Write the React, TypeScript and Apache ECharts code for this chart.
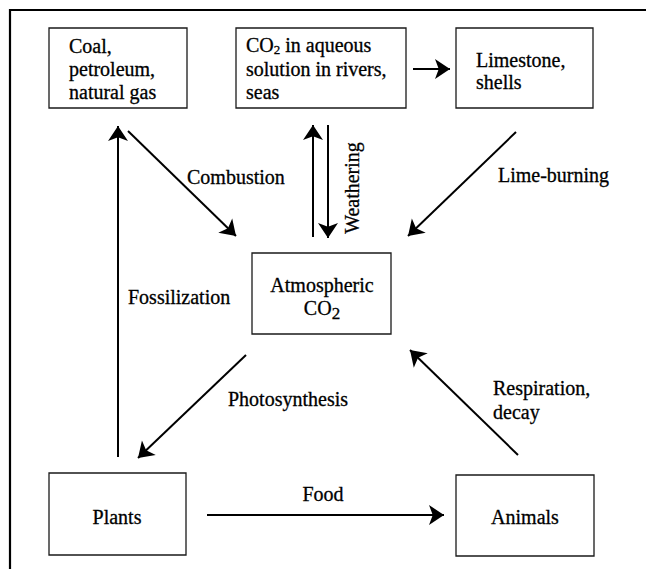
import React, { useEffect, useRef } from "react";
import * as echarts from "echarts";

// Diagram content
const boxNames = ["coal", "aqueous", "limestone", "atmos", "plants", "animals"];
const boxRects = [
  [49, 28, 187, 108],
  [236, 28, 406, 108],
  [456, 28, 593, 108],
  [252, 253, 391, 334],
  [49, 473, 186, 555],
  [456, 475, 594, 556],
];

const labelTexts = [
  "Coal,",
  "petroleum,",
  "natural gas",
  "CO{sub|2} in aqueous",
  "solution in rivers,",
  "seas",
  "Limestone,",
  "shells",
  "Atmospheric",
  "CO{big|2}",
  "Plants",
  "Animals",
  "Combustion",
  "Weathering",
  "Lime-burning",
  "Fossilization",
  "Photosynthesis",
  "Respiration,",
  "decay",
  "Food",
];
const labelAnchors = [
  [69, 46], [69, 69], [69, 92],
  [246, 45], [246, 69], [246, 92],
  [476, 60], [476, 82],
  [322, 285], [322, 308],
  [117, 517], [525, 517],
  [187, 177], [352, 188], [498, 175],
  [128, 297], [228, 399], [493, 388], [493, 412],
  [323, 494],
];
const labelAligns = [
  "left", "left", "left", "left", "left", "left", "left", "left",
  "center", "center", "center", "center",
  "left", "center", "left", "left", "left", "left", "left", "center",
];
const labelRotations = [0, 0, 0, 0, 0, 0, 0, 0, 0, 0, 0, 0, 0, 90, 0, 0, 0, 0, 0, 0];

const flowNames = [
  "Fossilization", "Combustion", "Weathering up", "Weathering down",
  "Deposition", "Lime-burning", "Photosynthesis", "Respiration", "Food",
];
const flowFrom = [
  [118, 457], [128, 131], [313, 237], [328, 125], [413, 69],
  [516, 132], [246, 355], [518, 455], [207, 515],
];
const flowTo = [
  [118, 126], [236, 236], [313, 125], [328, 238], [450, 69],
  [408, 236], [138, 458], [410, 350], [444, 515],
];

const FONT = "'Liberation Serif', 'Times New Roman', serif";

export default function App() {
  const ref = useRef<HTMLDivElement>(null);
  useEffect(() => {
    if (!ref.current) return;
    const chart = echarts.init(ref.current, undefined, { renderer: "svg" });
    const option: any = {
      animation: false,
      backgroundColor: "#ffffff",
      grid: { left: 0, right: 0, top: 0, bottom: 0 },
      xAxis: { type: "value", min: 0, max: 646, show: false },
      yAxis: { type: "value", min: 0, max: 569, inverse: true, show: false },
      graphic: [
        {
          type: "rect",
          shape: { x: 10, y: 10, width: 700, height: 700 },
          style: { fill: "none", stroke: "#000", lineWidth: 2.2 },
          silent: true,
        },
      ],
      series: [
        {
          type: "custom",
          name: "boxes",
          coordinateSystem: "cartesian2d",
          data: boxRects.map((r, i) => ({ name: boxNames[i], value: r })),
          renderItem: (params: any, api: any) => {
            const p1 = api.coord([api.value(0), api.value(1)]);
            const p2 = api.coord([api.value(2), api.value(3)]);
            return {
              type: "rect",
              shape: { x: p1[0], y: p1[1], width: p2[0] - p1[0], height: p2[1] - p1[1] },
              style: { fill: "#fff", stroke: "#1a1a1a", lineWidth: 1.3 },
            };
          },
          silent: true,
          z: 2,
        },
        {
          type: "lines",
          name: "flows",
          coordinateSystem: "cartesian2d",
          data: flowNames.map((n, i) => ({ name: n, coords: [flowFrom[i], flowTo[i]] })),
          symbol: ["none", "arrow"],
          symbolSize: [9, 15],
          lineStyle: { color: "#000", width: 2, opacity: 1 },
          itemStyle: { color: "#000" },
          silent: true,
          z: 3,
        },
        {
          type: "custom",
          name: "labels",
          coordinateSystem: "cartesian2d",
          data: labelAnchors.map((a, i) => [a[0], a[1], i]),
          renderItem: (params: any, api: any) => {
            const i = api.value(2);
            const p = api.coord([api.value(0), api.value(1)]);
            const rot = labelRotations[i];
            return {
              type: "text",
              x: p[0],
              y: p[1],
              rotation: (rot * Math.PI) / 180,
              style: {
                text: labelTexts[i],
                fontFamily: FONT,
                fontSize: 20,
                fill: "#000",
                stroke: "#000",
                lineWidth: 0.3,
                align: labelAligns[i],
                verticalAlign: "middle",
                lineHeight: 22,
                rich: {
                  sub: {
                    fontFamily: FONT,
                    fontSize: 13,
                    lineHeight: 13,
                    padding: [9, 0, 0, 0],
                    fill: "#000",
                  },
                  big: {
                    fontFamily: FONT,
                    fontSize: 17,
                    lineHeight: 14,
                    padding: [10, 0, 0, 0],
                    fill: "#000",
                  },
                },
              },
            };
          },
          silent: true,
          z: 4,
        },
      ],
    };
    chart.setOption(option);
    return () => chart.dispose();
  }, []);
  return (
    <div
      ref={ref}
      style={{ position: "fixed", left: 0, top: 0, width: 646, height: 569, background: "#fff" }}
    />
  );
}
